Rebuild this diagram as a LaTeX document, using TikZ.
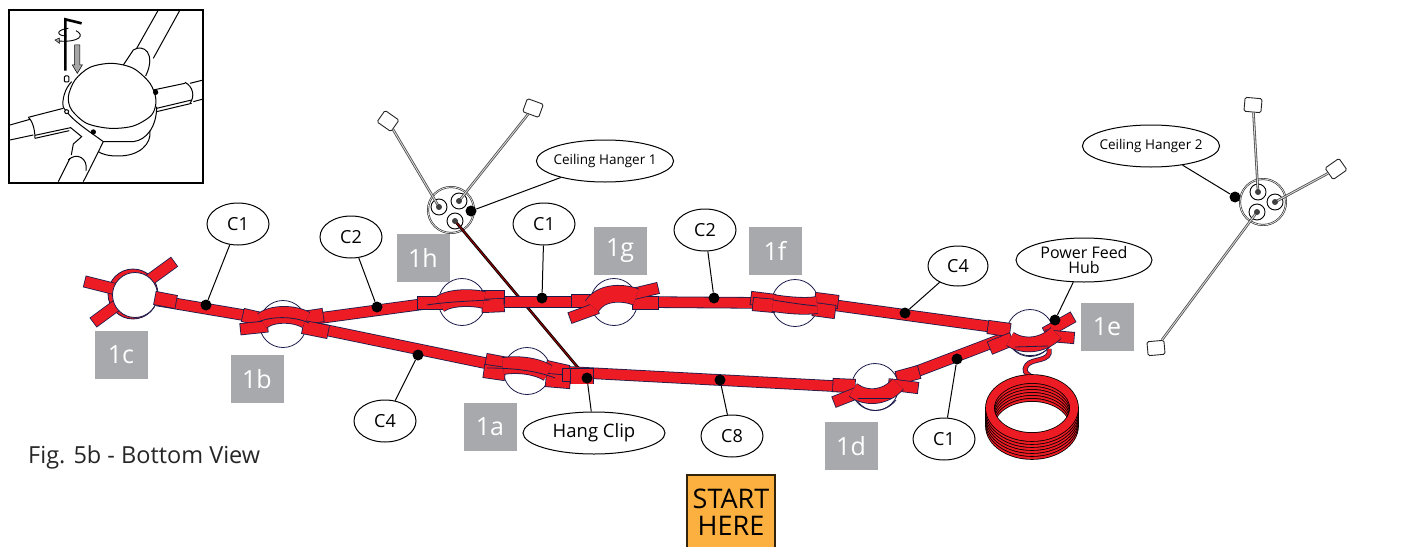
\documentclass[tikz,border=0pt]{standalone}
\usepackage{fontspec}
\setmainfont{Open Sans}
\usetikzlibrary{shapes.geometric}
\definecolor{tubered}{HTML}{ED1C24}
\definecolor{tubeline}{HTML}{1B1B4B}
\definecolor{taggrey}{HTML}{A7A9AC}
\definecolor{startorange}{HTML}{FBB040}
\begin{document}
\begin{tikzpicture}[x=1pt,y=-1pt,
    hub/.style={circle,draw=tubeline,fill=white,line width=.8pt,minimum size=47pt,inner sep=0pt,outer sep=0pt},
    tube/.style={draw=tubeline,double=tubered,line width=.8pt,double distance=10pt},
    sleeve/.style={tube,double distance=12.5pt,line cap=rect,shorten >=6.5pt,shorten <=6.5pt},
    arm/.style={tube,double distance=10.5pt,line cap=rect,shorten >=5.5pt},
    band/.style={tube,double distance=16pt},
    callout/.style={ellipse,draw,fill=white,line width=1pt,inner sep=0pt,minimum width=62pt,minimum height=42pt,font=\fontsize{18}{18}\selectfont},
    wide callout/.style={callout,inner xsep=-3pt,minimum width=136pt,font=\fontsize{13.5}{14}\selectfont},
    tag/.style={fill=taggrey,text=white,minimum width=53pt,minimum height=48pt,inner sep=0pt,font=\fontsize{25}{25}\selectfont},
    dot/.style={circle,fill=black,inner sep=0pt,minimum size=11pt},
    lead/.style={line width=1pt},
    hanger/.style={circle,double,draw=black!80,fill=white,line width=.7pt,minimum size=46pt,inner sep=0pt},
    socket/.style={circle,draw=black,fill=white,line width=.9pt,minimum size=16pt,inner sep=0pt},
    pin/.style={circle,fill=black!75,inner sep=0pt,minimum size=6pt},
    hook/.style={draw=black!85,fill=white,line width=.9pt,rounded corners=1.5pt,minimum width=17pt,minimum height=14pt,inner sep=0pt},
    cord/.style={draw=black!70,double=black!15,line width=.8pt,double distance=.9pt},
    coil/.style={tube,draw=black,line width=.8pt,double distance=8pt},
    inset/.style={line width=1pt}]
    \useasboundingbox (0,0) rectangle (1410,546);

    \begin{scope}
        \clip (9,10) rectangle (203,183);
        \begin{scope}[x=.3333pt,y=-.3333pt,inset]
            \draw (30,375) -- (90,358);
            \draw (85,352) -- (190,325);
            \draw (85,352) .. controls (100,365) and (105,395) .. (105,415);
            \draw (30,420) -- (100,405);
            \draw (105,415) -- (208,392);
            \draw (105,406) -- (212,383) -- (245,410) -- (220,432) -- (214,465);
            \draw (175,545) -- (210,475);
            \draw (205,480) .. controls (230,455) and (265,475) .. (258,512);
            \draw (250,545) -- (268,510) -- (310,425);
            \draw (370,195) -- (400,150);
            \draw (400,150) .. controls (430,130) and (470,160) .. (437,228);
            \draw (410,145) -- (475,30);
            \draw (460,175) -- (540,30);
            \draw (460,270) -- (555,250);
            \draw (555,247) .. controls (580,260) and (585,290) .. (570,310);
            \draw (470,335) -- (575,310);
            \draw (470,325) -- (575,300);
            \draw (570,250) -- (610,240);
            \draw (580,305) -- (610,297);
            \draw (215,245) .. controls (195,265) and (185,300) .. (190,322);
            \draw (190,322) .. controls (215,360) and (255,385) .. (310,425) -- (400,425) .. controls (440,420) and (470,380) .. (470,320);
            \draw (450,392) .. controls (455,430) and (420,470) .. (350,468) .. controls (325,468) and (305,462) .. (295,455);
            \draw[fill=white] plot[smooth cycle] coordinates {(205,290) (225,240) (270,202) (335,190) (400,205) (450,250) (468,300) (455,345) (400,378) (330,385) (260,370) (215,330)};
            \draw[fill=white] (200,335) circle (6);
            \fill (467,277) circle (8);
            \fill (280,396) circle (8);
            \draw[line width=2.6pt] (196,212) -- (196,58) -- (245,70);
            \draw[line width=.9pt] (205,85) .. controls (165,90) and (170,108) .. (200,108);
            \draw[line width=.9pt] (228,92) .. controls (255,105) and (240,128) .. (175,123);
            \draw[fill=black!35,line width=.5pt] (178,114) -- (165,120) -- (178,130) -- cycle;
            \draw[fill=black!35,line width=.5pt] (224,135) -- (240,135) -- (240,195) -- (247,195) -- (232,220) -- (217,195) -- (224,195) -- cycle;
            \draw[rounded corners=1pt] (193,228) rectangle (207,246);
        \end{scope}
    \end{scope}
    \node [draw,line width=2pt,minimum width=194pt,minimum height=173pt,inner sep=0pt] (detail) at (106,96.5) {};

    % ceiling hangers
    \node [hanger] (hanger1) at (451,210) {};
    \node [socket] (socket1a) at (439,207) {};
    \node [socket] (socket1b) at (459,201) {};
    \node [socket] (socket1c) at (455,221) {};
    \node [hook,rotate=-35] (hook1a) at (388,121) {};
    \node [hook,rotate=-20] (hook1b) at (533,108) {};
    \coordinate (clipsleeve) at (580,370);
    \draw [cord] (socket1a.center) -- (hook1a);
    \draw [cord] (socket1b.center) -- (hook1b);
    \draw [cord,draw=black,double=red!55!black,double distance=1.1pt] (socket1c.center) -- (clipsleeve);
    \node [pin] at (socket1a) {};
    \node [pin] at (socket1b) {};
    \node [pin] at (socket1c) {};

    \node [hanger] (hanger2) at (1263,202) {};
    \node [socket] (socket2a) at (1258,192) {};
    \node [socket] (socket2b) at (1275,202) {};
    \node [socket] (socket2c) at (1257,212) {};
    \node [hook,rotate=-5] (hook2a) at (1253,105) {};
    \node [hook,rotate=35] (hook2b) at (1336,169) {};
    \node [hook,rotate=5] (hook2c) at (1156,348) {};
    \draw [cord] (socket2a.center) -- (hook2a);
    \draw [cord] (socket2b.center) -- (hook2b);
    \draw [cord] (socket2c.center) -- (hook2c);
    \node [pin] at (socket2a) {};
    \node [pin] at (socket2b) {};
    \node [pin] at (socket2c) {};

    % hubs and tubes
    \node [hub,fill=tubered,minimum size=50pt] (hub1c) at (133,294) {};
    \node [hub] (hub1b) at (283,324) {};
    \node [hub] (hub1a) at (527,371) {};
    \node [hub] (hub1d) at (875,387) {};
    \node [hub] (hub1e) at (1030,333) {};
    \node [hub] (hub1f) at (795,303) {};
    \node [hub] (hub1g) at (614,302) {};
    \node [hub] (hub1h) at (462,302) {};

    \draw [tube] (hub1c.-15) -- (hub1b.165);
    \draw [tube] (hub1b.10) -- (hub1h.180);
    \draw [tube] (hub1h.0) -- (hub1g.180);
    \draw [tube] (hub1g.0) -- (hub1f.180);
    \draw [tube] (hub1f.0) -- (hub1e.170);
    \draw [tube] (hub1e.190) -- (hub1d.20);
    \draw [tube] (hub1d.180) -- (hub1a.0);
    \draw [tube] (hub1a.170) -- (hub1b.-5);

    % hub 1c
    \draw [arm] (hub1c.165) -- ++(-24,-6);
    \draw [arm] (hub1c.40) -- ++(22,-16);
    \draw [arm] (hub1c.215) -- ++(-19,14);
    \node [hub,minimum size=45pt] (face1c) at (135,295) {};
    \draw [sleeve] (155,298) -- (176,302);

    % hub 1b
    \draw [sleeve] (243,315) -- (265,320);
    \draw [arm,shorten >=3pt] (262,327) -- (243,329);
    \draw [sleeve] (303,318) -- (323,315);
    \draw [sleeve] (303,327) -- (328,332);
    \draw [band] (262,321) .. controls (272,313) and (294,313) .. (306,320);
    \draw [tubeline,line width=.8pt] (258,322) .. controls (272,316) and (294,316) .. (309,323);

    % hub 1h
    \draw [sleeve] (418,303) -- (442,303);
    \draw [sleeve] (482,297) -- (504,297);
    \draw [sleeve] (482,306) -- (504,305);
    \draw [band] (440,304) .. controls (450,297) and (472,297) .. (484,300);
    \draw [tubeline,line width=.8pt] (427,305) .. controls (445,302) and (470,301) .. (490,300);

    % hub 1g
    \draw [sleeve] (572,301) -- (594,301);
    \draw [arm] (592,310) -- (570,318);
    \draw [sleeve] (633,303) -- (658,303);
    \draw [arm] (633,294) -- (658,288);
    \draw [band] (592,306) .. controls (600,293) and (620,291) .. (636,297);

    % hub 1f
    \draw [sleeve] (751,298) -- (775,301);
    \draw [sleeve] (753,304) -- (775,306);
    \draw [sleeve] (815,299) -- (838,302);
    \draw [sleeve] (813,309) -- (835,312);
    \draw [band] (773,303) .. controls (785,305) and (805,307) .. (817,305);
    \draw [tubeline,line width=.8pt] (773,300) .. controls (785,302) and (805,305) .. (817,306);

    % hub 1a
    \draw [sleeve] (486,360) -- (507,364);
    \draw [sleeve] (484,371) -- (505,374);
    \draw [sleeve] (546,367) -- (568,372);
    \draw [sleeve] (546,380) -- (570,382);
    \draw [band] (503,366) .. controls (515,364) and (535,365) .. (548,373);
    \draw [tubeline,line width=.8pt] (487,368) .. controls (510,368) and (535,370) .. (555,378);
    \draw [sleeve] (563,375) -- (577,375);
    \draw [sleeve,double distance=15pt] (572,376) -- (592,376);

    % hub 1d
    \draw [sleeve] (833,385) -- (855,386);
    \draw [arm] (857,393) -- (834,402);
    \draw [sleeve] (897,378) -- (919,372);
    \draw [arm] (894,385) -- (918,388);
    \draw [tubeline,line width=.8pt] (857,400) .. controls (865,414) and (885,414) .. (896,400);
    \draw [band,double distance=14pt] (853,390) .. controls (865,399) and (885,399) .. (898,384);
    \draw [tubeline,line width=.8pt] (858,398) -- (892,398);

    % hub 1e
    \draw [sleeve] (988,327) -- (1010,330);
    \draw [sleeve] (990,348) -- (1012,339);
    \draw [arm] (1050,330) -- (1073,317);
    \draw [arm] (1051,336) -- (1074,338);
    \draw [tubeline,line width=.8pt] (1012,347) .. controls (1020,359) and (1042,359) .. (1052,344);
    \draw [band,double distance=14pt] (1010,339) .. controls (1022,347) and (1042,347) .. (1056,333);
    \draw [tubeline,line width=.8pt] (1015,347) -- (1048,346);

    % coil
    \draw [tube,double distance=3.5pt] (1049,349) .. controls (1052,362) and (1032,358) .. (1027,365) .. controls (1023,371) and (1026,373) .. (1030,376);
    \draw [coil] (1032,426) ellipse (42pt and 29pt);
    \draw [coil] (1032,423) ellipse (42pt and 29pt);
    \draw [coil] (1032,420) ellipse (42pt and 29pt);
    \draw [coil] (1032,417) ellipse (42pt and 29pt);
    \draw [coil] (1032,414) ellipse (42pt and 29pt);
    \draw [coil] (1032,411) ellipse (42pt and 29pt);
    \draw [coil] (1032,408) ellipse (42pt and 29pt);

    % tags
    \node [tag] (tag1c) at (121,355) {1c};
    \node [tag] (tag1b) at (257,379) {1b};
    \node [tag] (tag1a) at (490,427) {1a};
    \node [tag] (tag1d) at (851,446) {1d};
    \node [tag] (tag1e) at (1107,327) {1e};
    \node [tag] (tag1f) at (775,251) {1f};
    \node [tag] (tag1g) at (620,251) {1g};
    \node [tag] (tag1h) at (423,258) {1h};

    % callouts
    \node [callout] (calloutA) at (238,224) {C1};
    \node [callout] (calloutB) at (351,237) {C2};
    \node [callout] (calloutC) at (544,224) {C1};
    \node [callout] (calloutD) at (705,230) {C2};
    \node [callout,minimum width=60pt,minimum height=40pt] (calloutE) at (958,266) {C4};
    \node [callout] (calloutF) at (385,421) {C4};
    \node [callout] (calloutG) at (732,436) {C8};
    \node [callout] (calloutH) at (944,439) {C1};
    \node [wide callout] (hanger1label) at (605,161) {Ceiling Hanger 1};
    \node [wide callout] (hanger2label) at (1151,146) {Ceiling Hanger 2};
    \node [wide callout,minimum height=44pt,align=center,font=\fontsize{16}{15}\selectfont] (feedlabel) at (1084,260) {Power Feed\\Hub};
    \node [wide callout,minimum width=142pt,minimum height=42pt,font=\fontsize{18.5}{18.5}\selectfont] (cliplabel) at (594,433) {Hang Clip};

    \node [dot] (dotA) at (206,305) {};
    \node [dot] (dotB) at (377,307) {};
    \node [dot] (dotC) at (542,298) {};
    \node [dot] (dotD) at (714,298) {};
    \node [dot] (dotE) at (905,313) {};
    \node [dot] (dotF) at (418,355) {};
    \node [dot] (dotG) at (720,380) {};
    \node [dot] (dotH) at (957,359) {};
    \node [dot] (dotI) at (471,211) {};
    \node [dot] (dotJ) at (1235,197) {};
    \node [dot] (dotK) at (1055,320) {};
    \node [dot] (dotL) at (587,378) {};

    \draw [lead] (calloutA) -- (dotA);
    \draw [lead] (calloutB) -- (dotB);
    \draw [lead] (calloutC) -- (dotC);
    \draw [lead] (calloutD) -- (dotD);
    \draw [lead] (calloutE) -- (dotE);
    \draw [lead] (calloutF) -- (dotF);
    \draw [lead] (calloutG) -- (dotG);
    \draw [lead] (calloutH) -- (dotH);
    \draw [lead] (hanger1label) -- (dotI);
    \draw [lead] (hanger2label) -- (dotJ);
    \draw [lead] (feedlabel) -- (dotK);
    \draw [lead] (cliplabel) -- (dotL);

    \node [anchor=west,inner sep=0pt,text=black!85,font=\fontsize{23.5}{24}\selectfont] (figlabel) at (28,457) {Fig. 5b - Bottom View};
    \node [draw=black!80!startorange,fill=startorange,line width=2pt,minimum width=88pt,minimum height=74pt,inner sep=0pt,align=center,font=\fontsize{27}{27}\selectfont] (startbox) at (731,512) {START\\HERE};
\end{tikzpicture}
\end{document}
